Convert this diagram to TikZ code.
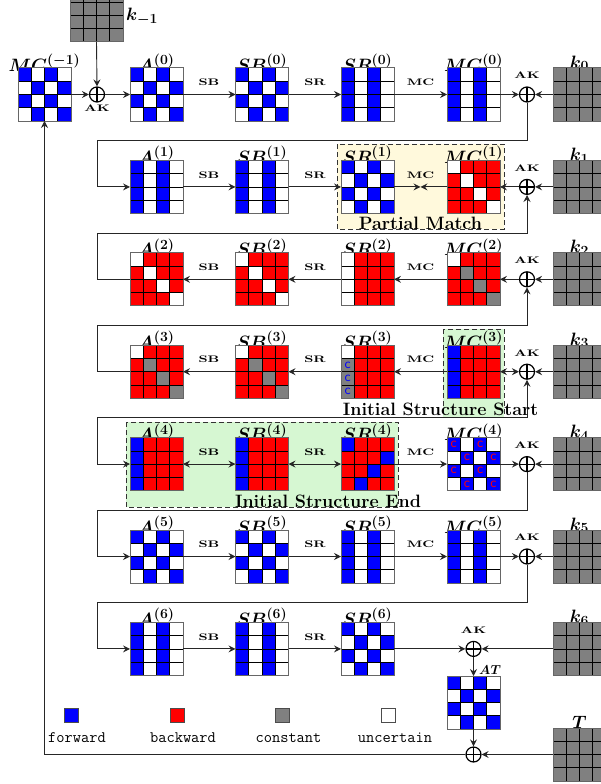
\RequirePackage{fix-cm}
\documentclass[tikz,border=0pt]{standalone}
\usepackage{amsmath}
\usetikzlibrary{arrows.meta,calc}
\DeclareMathSizes{17.9}{17.9}{14}{10}
\definecolor{cb}{HTML}{0000FF}
\definecolor{cr}{HTML}{FF0000}
\definecolor{cg}{HTML}{808080}
\definecolor{cw}{HTML}{FFFFFF}
\definecolor{pmfill}{HTML}{FFF9DC}
\definecolor{isfill}{HTML}{D6F7D2}
\def\pchk{cb,cw,cb,cw,cw,cb,cw,cb,cb,cw,cb,cw,cw,cb,cw,cb}
\def\pcol{cb,cw,cb,cw,cb,cw,cb,cw,cb,cw,cb,cw,cb,cw,cb,cw}
\def\pgry{cg,cg,cg,cg,cg,cg,cg,cg,cg,cg,cg,cg,cg,cg,cg,cg}
\def\pdiag{cw,cr,cr,cr,cr,cw,cr,cr,cr,cr,cw,cr,cr,cr,cr,cw}
\def\psrtwo{cw,cr,cr,cr,cw,cr,cr,cr,cw,cr,cr,cr,cw,cr,cr,cr}
\def\pmctwo{cw,cr,cr,cr,cr,cg,cr,cr,cr,cr,cg,cr,cr,cr,cr,cg}
\def\psrthree{cw,cr,cr,cr,cg,cr,cr,cr,cg,cr,cr,cr,cg,cr,cr,cr}
\def\pblue{cb,cr,cr,cr,cb,cr,cr,cr,cb,cr,cr,cr,cb,cr,cr,cr}
\def\psrfour{cb,cr,cr,cr,cr,cr,cr,cb,cr,cr,cb,cr,cr,cb,cr,cr}
\newcommand\opl[1]{\scalebox{1.5}[1]{#1}}
\tikzset{
 matbox/.style={rectangle, minimum size=53pt, inner sep=0pt, outer sep=0pt},
 cellline/.style={black, line width=0.7pt},
 outerline/.style={black!60, line width=1pt},
 ttl/.style={anchor=base, inner sep=0pt, font=\fontsize{17.9}{20}\selectfont\boldmath},
 xorp/.style={circle, draw, line width=1.2pt, minimum size=15pt, inner sep=0pt,
   path picture={\draw[line width=1.2pt] (path picture bounding box.north) -- (path picture bounding box.south) (path picture bounding box.west) -- (path picture bounding box.east);}},
 arr/.style={-{Stealth[length=7pt,width=7pt,inset=2.5pt]}, line width=0.9pt, black!85},
 darr/.style={{Stealth[length=7pt,width=7pt,inset=2.5pt]}-{Stealth[length=7pt,width=7pt,inset=2.5pt]}, line width=0.9pt, black!85},
 op/.style={inner sep=0pt, font=\fontsize{9.5}{10}\selectfont\bfseries},
 boxlbl/.style={anchor=base, inner sep=0pt, font=\fontsize{17.9}{20}\selectfont\bfseries},
 leg/.style={anchor=base, inner sep=0pt, font=\fontsize{16}{18}\selectfont\ttfamily},
 legsq/.style={draw=black!70, line width=0.8pt, minimum size=14pt, inner sep=0pt},
 dashbox/.style={dash pattern=on 5pt off 3pt, draw=black!80, line width=0.8pt},
 ctext/.style={inner sep=0pt, font=\fontsize{14}{14}\selectfont\sffamily}
}
% #1 name, #2 x, #3 y, #4 title, #5 colours, #6 title baseline offset below top
\newcommand\mtxg[6]{%
  \node[ttl] (#1t) at (#2,#3-26.5+#6) {#4};
  \node[matbox] (#1) at (#2,#3) {};
  \begin{scope}[shift={(#1.north west)}]
    \foreach \cc [count=\ii from 0] in #5 {
      \pgfmathtruncatemacro\rr{div(\ii,4)}
      \pgfmathtruncatemacro\kk{mod(\ii,4)}
      \fill[\cc] (\kk*13.25,\rr*13.25) rectangle ++(13.25,13.25);
    }
    \foreach \jj in {1,2,3} {
      \draw[cellline] (\jj*13.25,0) -- (\jj*13.25,53);
      \draw[cellline] (0,\jj*13.25) -- (53,\jj*13.25);
    }
  \end{scope}
  \draw[outerline] (#1.north west) rectangle (#1.south east);
}
\newcommand\mtx[5]{\mtxg{#1}{#2}{#3}{#4}{#5}{3}}
\newcommand\kmtx[4]{\mtxg{#1}{#2}{#3}{#4}{\pgry}{0}}
\newcommand\cmark[5]{\node[ctext, text=#5] (#1) at ($(#2.north west)+(#3*13.25+6.625,#4*13.25+6.625)$) {c};}
\begin{document}
\begin{tikzpicture}[x=1pt,y=-1pt]
\useasboundingbox (0,0) rectangle (600,784);
% regions
\fill[pmfill] (337,144) rectangle (504,229);
\draw[dashbox] (337,144) rectangle (504,229);
\fill[isfill] (443,329) rectangle (504,417);
\draw[dashbox] (443,329) rectangle (504,417);
\fill[isfill] (126,422) rectangle (398,507);
\draw[dashbox] (126,422) rectangle (398,507);
% row 0
\kmtx{km}{96.5}{15.2}{}
\node[ttl, anchor=base west] (kml) at (126,21) {$k_{-1}$};
\mtx{mcm}{44.5}{94.5}{$MC^{(-1)}$}{\pchk}
\mtx{a0}{156.5}{94.5}{$A^{(0)}$}{\pchk}
\mtx{sb0}{262}{94.5}{$SB^{(0)}$}{\pchk}
\mtx{sr0}{367.5}{94.5}{$SR^{(0)}$}{\pcol}
\mtx{mc0}{473.5}{94.5}{$MC^{(0)}$}{\pcol}
\kmtx{k0}{579.5}{94.5}{$k_0$}
\node[xorp] (pm) at (97,94.5) {};
\node[xorp] (p0) at (527,94.5) {};
% row 1
\mtx{a1}{156.5}{186.9}{$A^{(1)}$}{\pcol}
\mtx{sb1}{262}{186.9}{$SB^{(1)}$}{\pcol}
\mtx{sr1}{367.5}{186.9}{$SR^{(1)}$}{\pchk}
\mtx{mc1}{473.5}{186.9}{$MC^{(1)}$}{\pdiag}
\kmtx{k1}{579.5}{186.9}{$k_1$}
\node[xorp] (p1) at (527,186.9) {};
\coordinate (m1) at (420.5,186.9);
% row 2
\mtx{a2}{156.5}{279.3}{$A^{(2)}$}{\pdiag}
\mtx{sb2}{262}{279.3}{$SB^{(2)}$}{\pdiag}
\mtx{sr2}{367.5}{279.3}{$SR^{(2)}$}{\psrtwo}
\mtx{mc2}{473.5}{279.3}{$MC^{(2)}$}{\pmctwo}
\kmtx{k2}{579.5}{279.3}{$k_2$}
\node[xorp] (p2) at (527,279.3) {};
% row 3
\mtx{a3}{156.5}{371.7}{$A^{(3)}$}{\pmctwo}
\mtx{sb3}{262}{371.7}{$SB^{(3)}$}{\pmctwo}
\mtx{sr3}{367.5}{371.7}{$SR^{(3)}$}{\psrthree}
\mtx{mc3}{473.5}{371.7}{$MC^{(3)}$}{\pblue}
\kmtx{k3}{579.5}{371.7}{$k_3$}
\node[xorp] (p3) at (527,371.7) {};
\cmark{c31}{sr3}{0}{1}{cb}
\cmark{c32}{sr3}{0}{2}{cb}
\cmark{c33}{sr3}{0}{3}{cb}
% row 4
\mtx{a4}{156.5}{464.1}{$A^{(4)}$}{\pblue}
\mtx{sb4}{262}{464.1}{$SB^{(4)}$}{\pblue}
\mtx{sr4}{367.5}{464.1}{$SR^{(4)}$}{\psrfour}
\mtx{mc4}{473.5}{464.1}{$MC^{(4)}$}{\pchk}
\kmtx{k4}{579.5}{464.1}{$k_4$}
\node[xorp] (p4) at (527,464.1) {};
\cmark{c41}{mc4}{0}{0}{cr}
\cmark{c42}{mc4}{2}{0}{cr}
\cmark{c43}{mc4}{1}{1}{cr}
\cmark{c44}{mc4}{3}{1}{cr}
\cmark{c45}{mc4}{0}{2}{cr}
\cmark{c46}{mc4}{2}{2}{cr}
\cmark{c47}{mc4}{1}{3}{cr}
\cmark{c48}{mc4}{3}{3}{cr}
% row 5
\mtx{a5}{156.5}{556.5}{$A^{(5)}$}{\pchk}
\mtx{sb5}{262}{556.5}{$SB^{(5)}$}{\pchk}
\mtx{sr5}{367.5}{556.5}{$SR^{(5)}$}{\pcol}
\mtx{mc5}{473.5}{556.5}{$MC^{(5)}$}{\pcol}
\kmtx{k5}{579.5}{556.5}{$k_5$}
\node[xorp] (p5) at (527,556.5) {};
% row 6
\mtx{a6}{156.5}{648.9}{$A^{(6)}$}{\pcol}
\mtx{sb6}{262}{648.9}{$SB^{(6)}$}{\pcol}
\mtx{sr6}{367.5}{648.9}{$SR^{(6)}$}{\pchk}
\kmtx{k6}{579.5}{648.9}{$k_6$}
\node[xorp] (p6) at (473.5,648.9) {};
\mtx{at}{473.5}{702.5}{}{\pchk}
\node[ttl, anchor=base west, font=\fontsize{13}{15}\selectfont\boldmath] (atl) at (479,674.5) {$AT$};
\kmtx{tt}{579.5}{754.5}{$T$}
\node[xorp] (p7) at (473.5,754.5) {};
% connectors row 0
\draw[arr] (mcm.east) -- (pm.west);
\draw[arr] (km.south) -- (pm.north);
\draw[arr] (pm.east) -- (a0.west);
\draw[arr] (a0.east) -- (sb0.west);
\draw[arr] (sb0.east) -- (sr0.west);
\draw[arr] (sr0.east) -- (mc0.west);
\draw[arr] (mc0.east) -- (p0.west);
\draw[arr] (k0.west) -- (p0.east);
\draw[arr] (p0.south) |- (97,140.7) |- (a1.west);
% row 1
\draw[arr] (a1.east) -- (sb1.west);
\draw[arr] (sb1.east) -- (sr1.west);
\draw[arr] (sr1.east) -- (m1);
\draw[arr] (mc1.west) -- (m1);
\draw[arr] (p1.west) -- (mc1.east);
\draw[arr] (k1.west) -- (p1.east);
\draw[arr] (a2.west) -| (97,233.1) -| (p1.south);
% row 2
\draw[arr] (mc2.west) -- (sr2.east);
\draw[arr] (sr2.west) -- (sb2.east);
\draw[arr] (sb2.west) -- (a2.east);
\draw[arr] (p2.west) -- (mc2.east);
\draw[arr] (k2.west) -- (p2.east);
\draw[arr] (a3.west) -| (97,325.5) -| (p2.south);
% row 3
\draw[arr] (mc3.west) -- (sr3.east);
\draw[arr] (sr3.west) -- (sb3.east);
\draw[arr] (sb3.west) -- (a3.east);
\draw[darr] (mc3.east) -- (p3.west);
\draw[arr] (k3.west) -- (p3.east);
\draw[darr] (a4.west) -| (97,417.9) -| (p3.south);
% row 4
\draw[darr] (a4.east) -- (sb4.west);
\draw[darr] (sb4.east) -- (sr4.west);
\draw[arr] (sr4.east) -- (mc4.west);
\draw[arr] (mc4.east) -- (p4.west);
\draw[arr] (k4.west) -- (p4.east);
\draw[arr] (p4.south) |- (97,510.3) |- (a5.west);
% row 5
\draw[arr] (a5.east) -- (sb5.west);
\draw[arr] (sb5.east) -- (sr5.west);
\draw[arr] (sr5.east) -- (mc5.west);
\draw[arr] (mc5.east) -- (p5.west);
\draw[arr] (k5.west) -- (p5.east);
\draw[arr] (p5.south) |- (97,602.7) |- (a6.west);
% row 6
\draw[arr] (a6.east) -- (sb6.west);
\draw[arr] (sb6.east) -- (sr6.west);
\draw[arr] (sr6.east) -- (p6.west);
\draw[arr] (k6.west) -- (p6.east);
\draw[arr] (p6.south) -- (at.north);
\draw[arr] (at.south) -- (p7.north);
\draw[arr] (tt.west) -- (p7.east);
\draw[arr] (p7.west) -| (mcm.south);
% operation labels
\node[op] (lak) at (97,108.5) {\opl{AK}};
\foreach \rn/\ry in {0/94.5,1/186.9,2/279.3,3/371.7,4/464.1,5/556.5}{
  \node[op] (lak\rn) at (527,\ry-19) {\opl{AK}};
}
\node[op] (lak6) at (473.5,630.4) {\opl{AK}};
\foreach \rn/\ry in {0/94.5,1/186.9,2/279.3,3/371.7,4/464.1,5/556.5,6/648.9}{
  \node[op] (lsb\rn) at (209,\ry-12) {\opl{SB}};
  \node[op] (lsr\rn) at (315,\ry-12) {\opl{SR}};
}
\foreach \rn/\ry in {0/94.5,1/186.9,2/279.3,3/371.7,4/464.1,5/556.5}{
  \node[op] (lmc\rn) at (420.5,\ry-12) {\opl{MC}};
}
% region labels
\node[boxlbl] (pml) at (420.5,229) {Partial Match};
\node[boxlbl] (isl) at (440.5,415.5) {Initial Structure Start};
\node[boxlbl] (iel) at (328,507) {Initial Structure End};
% legend
\node[legsq, fill=cb] (lgb) at (71,715) {};
\node[legsq, fill=cr] (lgr) at (177,715) {};
\node[legsq, fill=cg] (lgg) at (282.5,715) {};
\node[legsq, fill=cw] (lgw) at (388,715) {};
\node[leg] (ltb) at (77,742) {forward};
\node[leg] (ltr) at (183,742) {backward};
\node[leg] (ltg) at (288.5,742) {constant};
\node[leg] (ltw) at (395,742) {uncertain};
\end{tikzpicture}
\end{document}
